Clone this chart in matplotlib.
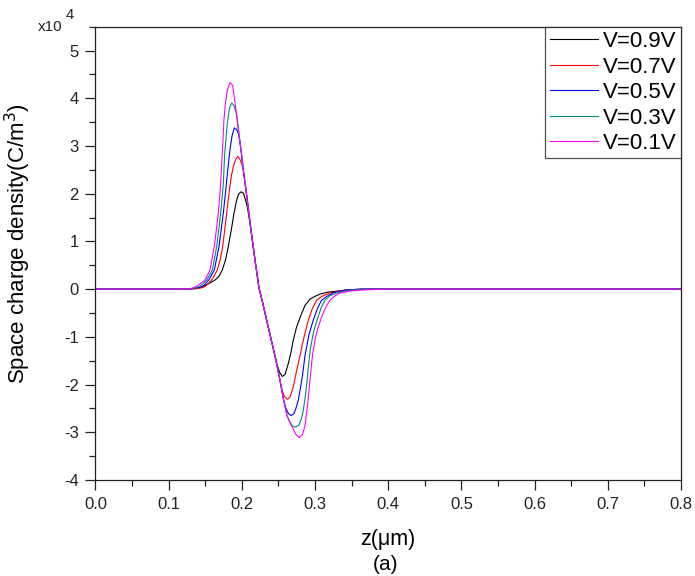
import matplotlib
matplotlib.use('Agg')
from matplotlib import pyplot as plt
from matplotlib.ticker import MultipleLocator

plt.rcParams['font.family'] = ['Liberation Sans', 'DejaVu Sans']

# space charge density (x1e4 C/m^3) against z (um)
z_09 = [0.0, 0.125, 0.1291, 0.1387, 0.1473, 0.1551, 0.1633, 0.1687, 0.1732, 0.1776,
        0.1814, 0.1855, 0.1892, 0.1926, 0.1954, 0.1988, 0.2022, 0.2049, 0.2074, 0.2104,
        0.2124, 0.2152, 0.2179, 0.2206, 0.2234, 0.2275, 0.2316, 0.2370, 0.2425, 0.2480,
        0.2514, 0.2552, 0.2589, 0.2634, 0.2671, 0.2702, 0.2746, 0.2801, 0.2862, 0.2930,
        0.2999, 0.3067, 0.3176, 0.3295, 0.3477, 0.3682, 0.8]
rho_09 = [0, 0, 0, 0.015, 0.06, 0.12, 0.19, 0.27, 0.40, 0.61,
          0.89, 1.24, 1.59, 1.85, 1.99, 2.04, 2.01, 1.87, 1.72, 1.45,
          1.24, 0.92, 0.61, 0.32, 0.02, -0.23, -0.50, -0.86, -1.22, -1.58,
          -1.74, -1.83, -1.79, -1.56, -1.32, -1.07, -0.80, -0.57, -0.34, -0.21,
          -0.15, -0.105, -0.063, -0.042, -0.02, 0, 0]

z_07 = [0.0, 0.125, 0.136, 0.1428, 0.1496, 0.1587, 0.1664, 0.1705, 0.1738, 0.1792,
        0.1835, 0.1860, 0.1885, 0.1913, 0.1943, 0.1974, 0.2001, 0.2019, 0.2056, 0.2090,
        0.2124, 0.2152, 0.2179, 0.2206, 0.2234, 0.2275, 0.2316, 0.2370, 0.2425, 0.2473,
        0.2520, 0.2548, 0.2582, 0.2620, 0.2657, 0.2702, 0.2746, 0.2794, 0.2848, 0.2907,
        0.2964, 0.3022, 0.3094, 0.3204, 0.3408, 0.3613, 0.8]
rho_07 = [0, 0, 0.01, 0.02, 0.05, 0.19, 0.40, 0.63, 0.89, 1.59,
          2.15, 2.40, 2.58, 2.71, 2.78, 2.72, 2.61, 2.50, 2.08, 1.66,
          1.24, 0.92, 0.61, 0.32, 0.02, -0.23, -0.50, -0.86, -1.22, -1.55,
          -1.91, -2.12, -2.25, -2.31, -2.26, -2.05, -1.72, -1.39, -1.01, -0.65,
          -0.40, -0.23, -0.15, -0.08, -0.02, 0, 0]

z_05 = [0.0, 0.125, 0.135, 0.1428, 0.1482, 0.1546, 0.1623, 0.1687, 0.1746, 0.1780,
        0.1807, 0.1837, 0.1865, 0.1896, 0.1930, 0.1954, 0.1970, 0.1992, 0.2019, 0.2056,
        0.2090, 0.2124, 0.2152, 0.2179, 0.2206, 0.2234, 0.2275, 0.2316, 0.2370, 0.2425,
        0.2473, 0.2520, 0.2568, 0.2602, 0.2637, 0.2671, 0.2712, 0.2746, 0.2770, 0.2801,
        0.2828, 0.2862, 0.2917, 0.2975, 0.3033, 0.3090, 0.3163, 0.3245, 0.3408, 0.3613, 0.8]
rho_05 = [0, 0, 0.02, 0.04, 0.08, 0.19, 0.40, 0.89, 1.59, 2.08,
          2.50, 2.92, 3.21, 3.38, 3.34, 3.25, 3.13, 2.86, 2.50, 2.08,
          1.66, 1.24, 0.92, 0.61, 0.32, 0.02, -0.23, -0.50, -0.86, -1.22,
          -1.55, -1.91, -2.31, -2.50, -2.61, -2.65, -2.61, -2.46, -2.33, -2.06,
          -1.81, -1.39, -0.95, -0.65, -0.40, -0.23, -0.15, -0.08, -0.02, 0, 0]

z_03 = [0.0, 0.125, 0.135, 0.1428, 0.1519, 0.1596, 0.1656, 0.1710, 0.1745, 0.1766,
        0.1801, 0.1831, 0.1861, 0.1892, 0.1929, 0.1964, 0.1992, 0.2019, 0.2056, 0.2090,
        0.2124, 0.2152, 0.2179, 0.2206, 0.2234, 0.2275, 0.2316, 0.2370, 0.2425, 0.2473,
        0.2520, 0.2568, 0.2616, 0.2650, 0.2691, 0.2735, 0.2780, 0.2814, 0.2839, 0.2862,
        0.2887, 0.2910, 0.2937, 0.2978, 0.3026, 0.3081, 0.3135, 0.3204, 0.3295, 0.3477,
        0.3682, 0.8]
rho_03 = [0, 0, 0.02, 0.06, 0.19, 0.40, 0.89, 1.59, 2.18, 2.86,
          3.48, 3.80, 3.90, 3.85, 3.66, 3.19, 2.86, 2.50, 2.08, 1.66,
          1.24, 0.92, 0.61, 0.32, 0.02, -0.23, -0.50, -0.86, -1.22, -1.55,
          -1.91, -2.31, -2.65, -2.77, -2.87, -2.89, -2.85, -2.71, -2.54, -2.29,
          -1.97, -1.60, -1.24, -0.90, -0.65, -0.40, -0.23, -0.14, -0.08, -0.02,
          0, 0]

z_01 = [0.0, 0.125, 0.132, 0.1383, 0.1496, 0.1564, 0.1623, 0.1678, 0.1708, 0.1735,
        0.1755, 0.1776, 0.1803, 0.1837, 0.1874, 0.1885, 0.1906, 0.1936, 0.1964, 0.1992,
        0.2019, 0.2056, 0.2090, 0.2124, 0.2152, 0.2179, 0.2206, 0.2234, 0.2275, 0.2316,
        0.2370, 0.2425, 0.2473, 0.2520, 0.2568, 0.2616, 0.2657, 0.2691, 0.2739, 0.2784,
        0.2828, 0.2862, 0.2896, 0.2930, 0.2964, 0.3005, 0.3046, 0.3090, 0.3142, 0.3204,
        0.3272, 0.3340, 0.3477, 0.3682, 0.3962, 0.8]
rho_01 = [0, 0, 0.02, 0.06, 0.19, 0.40, 0.89, 1.59, 2.18, 2.92,
          3.55, 3.91, 4.18, 4.33, 4.27, 4.14, 3.91, 3.55, 3.19, 2.86,
          2.50, 2.08, 1.66, 1.24, 0.92, 0.61, 0.32, 0.02, -0.23, -0.50,
          -0.86, -1.22, -1.55, -1.91, -2.31, -2.65, -2.80, -2.90, -3.05, -3.11,
          -3.05, -2.86, -2.44, -1.91, -1.39, -1.01, -0.78, -0.58, -0.39, -0.23,
          -0.14, -0.08, -0.04, -0.015, 0, 0]

labels = ['V=0.9V', 'V=0.7V', 'V=0.5V', 'V=0.3V', 'V=0.1V']
colors = ['#000000', '#ff0000', '#0000ff', '#008b80', '#ff00ff']
series = [(z_09, rho_09), (z_07, rho_07), (z_05, rho_05), (z_03, rho_03), (z_01, rho_01)]

fig = plt.figure(figsize=(6.95, 5.76), dpi=100)
ax = fig.add_axes([0.1374, 0.1667, 0.8426, 0.7869])

for (z, rho), lab, col in zip(series, labels, colors):
    ax.plot(z, rho, color=col, lw=0.8, label=lab)

ax.set_xlim(0, 0.8)
ax.set_ylim(-4, 5.5)
ax.xaxis.set_major_locator(MultipleLocator(0.1))
ax.xaxis.set_minor_locator(MultipleLocator(0.05))
ax.yaxis.set_major_locator(MultipleLocator(1))
ax.yaxis.set_minor_locator(MultipleLocator(0.5))
ax.xaxis.set_major_formatter(plt.FuncFormatter(lambda v, p: '%.1f' % v))
ax.yaxis.set_major_formatter(plt.FuncFormatter(lambda v, p: '%d' % round(v)))
ax.tick_params(which='major', direction='out', length=7, width=0.9, labelsize=12,
               pad=5, color='#222222', labelcolor='#222222')
ax.tick_params(which='minor', direction='out', length=4, width=0.9, color='#222222')
for sp in ax.spines.values():
    sp.set_linewidth(0.9)
    sp.set_color('#222222')

ax.set_ylabel('Space charge density(C/m$^3$)', fontsize=16)
ax.yaxis.set_label_coords(-0.106, 0.522)
fig.text(388 / 695, 1 - 540 / 576, 'z(\u03bcm)', fontsize=15.5, ha='center', va='center')
fig.text(386 / 695, 1 - 564 / 576, '(a)', fontsize=15, ha='center', va='center')

fig.text(0.054, 0.953, 'x10', fontsize=11, ha='left', va='center', color='#222222')
fig.text(0.094, 0.974, '4', fontsize=10.5, ha='left', va='center', color='#222222')

leg = ax.legend(loc='upper right', fontsize=16, frameon=True, fancybox=False,
                borderaxespad=0, handlelength=2.2, handletextpad=0.2,
                labelspacing=0.2, borderpad=0.2)
leg.get_frame().set_edgecolor('#222222')
leg.get_frame().set_linewidth(0.9)

fig.savefig('out.png', dpi=100)
